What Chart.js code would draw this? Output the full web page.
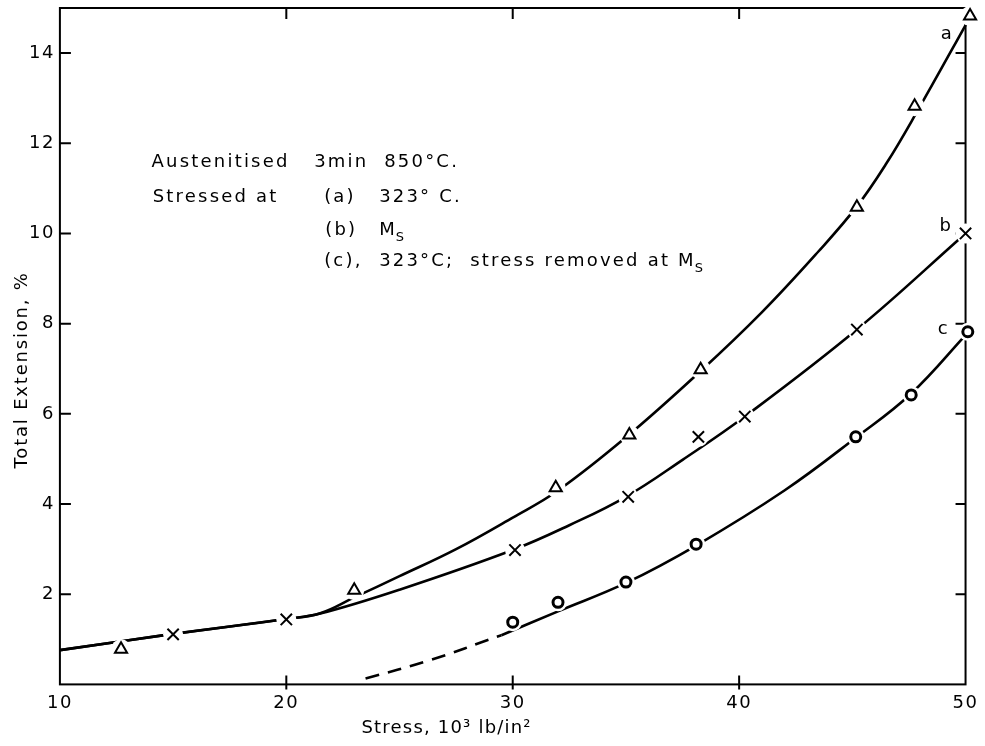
<!DOCTYPE html>
<html>
<head>
<meta charset="utf-8">
<title>Total extension vs stress</title>
<script src="https://cdn.jsdelivr.net/npm/chart.js@4/dist/chart.umd.min.js"></script>
<style>
  html, body { margin: 0; padding: 0; background: #fff; }
</style>
</head>
<body>
<canvas id="grafica" width="985" height="746"></canvas>
<script>
// ejes
const xTicks = [10, 20, 30, 40, 50];
const yTicks = [2, 4, 6, 8, 10, 12, 14];

// (a) stressed at 323°C  -- triangles
const stressA = [12.7, 23.0, 31.9, 35.15, 38.3, 45.2, 47.75, 50.2];
const extA = [0.78, 2.09, 4.36, 5.53, 6.98, 10.58, 12.82, 14.82];
// (b) stressed at Ms  -- crosses
const stressB = [15.0, 20.0, 30.1, 35.1, 38.2, 40.25, 45.2, 50.0];
const extB = [1.11, 1.44, 2.98, 4.16, 5.49, 5.94, 7.87, 10.0];
// (c) 323°C, stress removed at Ms  -- circles
const stressC = [30.0, 32.0, 35.0, 38.1, 45.15, 47.6, 50.1];
const extC = [1.38, 1.82, 2.27, 3.11, 5.49, 6.42, 7.82];

// curvas ajustadas a mano
const curveAx = [10, 15, 20, 21.5, 23, 25, 27.5, 30, 32, 35, 38.3, 41, 43.5, 45.2, 46.5, 47.8, 50.2];
const curveAy = [0.76, 1.12, 1.45, 1.58, 1.93, 2.4, 3.0, 3.7, 4.3, 5.48, 6.95, 8.25, 9.6, 10.6, 11.55, 12.65, 14.8];
const curveBx = [10, 15, 20, 21.5, 25, 30, 32.5, 35, 37.5, 40.25, 45.2, 50];
const curveBy = [0.76, 1.12, 1.45, 1.57, 2.1, 2.98, 3.53, 4.16, 4.98, 5.94, 7.87, 10.0];
const curveCdashX = [23.5, 26.3, 29.5];
const curveCdashY = [0.13, 0.53, 1.09];
const curveCx = [29.5, 32, 35, 38.1, 42, 45.15, 47.6, 50.1];
const curveCy = [1.09, 1.62, 2.25, 3.08, 4.3, 5.47, 6.45, 7.8];

// textos dentro del grafico (posicion en unidades de los ejes)
const notas = [
  { x: 14.05, y: 11.58, text: 'Austenitised' },
  { x: 21.23, y: 11.58, text: '3min  850°C.' },
  { x: 14.1, y: 10.8, text: 'Stressed at' },
  { x: 21.67, y: 10.8, text: '(a)' },
  { x: 24.1, y: 10.8, text: '323° C.' },
  { x: 21.72, y: 10.07, text: '(b)' },
  { x: 24.1, y: 10.07, text: 'M', sub: 'S' },
  { x: 21.67, y: 9.38, text: '(c),' },
  { x: 24.1, y: 9.38, text: '323°C;  stress removed at M', sub: 'S' },
  { x: 48.9, y: 14.42, text: 'a' },
  { x: 48.85, y: 10.16, text: 'b' },
  { x: 48.77, y: 7.87, text: 'c' }
];

const fuente = '"DejaVu Sans", sans-serif';

function pares(xs, ys) {
  return xs.map((x, i) => ({ x: x, y: ys[i] }));
}

function curva(xs, ys, dash) {
  return {
    data: pares(xs, ys),
    showLine: true,
    borderColor: '#000',
    borderWidth: 2.6,
    borderDash: dash || [],
    pointRadius: 0,
    tension: 0.4,
    clip: false,
    order: 3
  };
}

function halo(xs, ys, r) {
  return {
    data: pares(xs, ys),
    pointStyle: 'circle',
    pointRadius: r,
    backgroundColor: '#fff',
    borderWidth: 0,
    clip: false,
    order: 2
  };
}

function marcas(xs, ys, estilo, r, grosor) {
  return {
    data: pares(xs, ys),
    pointStyle: estilo,
    pointRadius: r,
    backgroundColor: '#fff',
    borderColor: '#000',
    borderWidth: grosor,
    clip: false,
    order: 1
  };
}

// marco, marcas de escala hacia dentro y textos
const extras = {
  id: 'extras',
  beforeDraw(chart) {
    chart.ctx.letterSpacing = '1.5px';
  },
  beforeDatasetsDraw(chart) {
    const ctx = chart.ctx;
    const { left, right, top, bottom } = chart.chartArea;
    const xs = chart.scales.x, ys = chart.scales.y;
    ctx.save();
    ctx.strokeStyle = '#000';
    ctx.lineWidth = 2;
    ctx.strokeRect(left, top, right - left, bottom - top);
    ctx.beginPath();
    yTicks.forEach(v => {
      const py = ys.getPixelForValue(v);
      ctx.moveTo(left, py); ctx.lineTo(left + 11, py);
      ctx.moveTo(right, py); ctx.lineTo(right - 10, py);
    });
    xTicks.slice(1, -1).forEach(v => {
      const px = xs.getPixelForValue(v);
      ctx.moveTo(px, bottom + 5); ctx.lineTo(px, bottom - 9);
      ctx.moveTo(px, top); ctx.lineTo(px, top + 11);
    });
    ctx.stroke();
    ctx.restore();
  },
  afterDraw(chart) {
    const ctx = chart.ctx;
    const xs = chart.scales.x, ys = chart.scales.y;
    const { left, right, top, bottom } = chart.chartArea;
    ctx.save();
    ctx.fillStyle = '#000';
    ctx.textBaseline = 'middle';
    ctx.textAlign = 'left';
    ctx.letterSpacing = '2.2px';
    notas.forEach(n => {
      const px = xs.getPixelForValue(n.x);
      const py = ys.getPixelForValue(n.y);
      ctx.font = '18px ' + fuente;
      ctx.fillText(n.text, px, py);
      if (n.sub) {
        const w = ctx.measureText(n.text).width;
        ctx.font = '13px ' + fuente;
        ctx.fillText(n.sub, px + w - 1, py + 7);
      }
    });

    // titulos de los ejes
    ctx.font = '18px ' + fuente;
    ctx.letterSpacing = '1.2px';
    ctx.textAlign = 'center';
    ctx.fillText('Stress, 10³ lb/in²', left + (right - left) * 0.427, bottom + 44);
    ctx.translate(22, top + (bottom - top) * 0.535);
    ctx.rotate(-Math.PI / 2);
    ctx.letterSpacing = '1.8px';
    ctx.fillText('Total Extension, %', 0, 0);
    ctx.restore();
  }
};

new Chart(document.getElementById('grafica'), {
  type: 'scatter',
  data: {
    datasets: [
      curva(curveAx, curveAy),
      curva(curveBx, curveBy),
      curva(curveCdashX, curveCdashY, [14, 9]),
      curva(curveCx, curveCy),
      halo(stressA, extA, 10),
      halo(stressB, extB, 10),
      halo(stressC, extC, 9),
      marcas(stressA, extA, 'triangle', 7, 2),
      marcas(stressB, extB, 'crossRot', 8, 2),
      marcas(stressC, extC, 'circle', 5, 3)
    ]
  },
  options: {
    responsive: false,
    devicePixelRatio: 1,
    animation: false,
    layout: { autoPadding: false, padding: { left: 27, right: 14, top: 8, bottom: 24 } },
    plugins: {
      legend: { display: false },
      tooltip: { enabled: false }
    },
    scales: {
      x: {
        type: 'linear',
        min: 10,
        max: 50,
        afterBuildTicks: s => { s.ticks = xTicks.map(v => ({ value: v })); },
        grid: { display: false, drawTicks: false },
        border: { display: false },
        ticks: { color: '#000', padding: 8, maxRotation: 0, font: { family: fuente, size: 18 } }
      },
      y: {
        type: 'linear',
        min: 0,
        max: 15,
        afterBuildTicks: s => { s.ticks = yTicks.map(v => ({ value: v })); },
        grid: { display: false, drawTicks: false },
        border: { display: false },
        ticks: { color: '#000', padding: 5, font: { family: fuente, size: 18, lineHeight: 0.3 } }
      }
    }
  },
  plugins: [extras]
});
</script>
</body>
</html>
